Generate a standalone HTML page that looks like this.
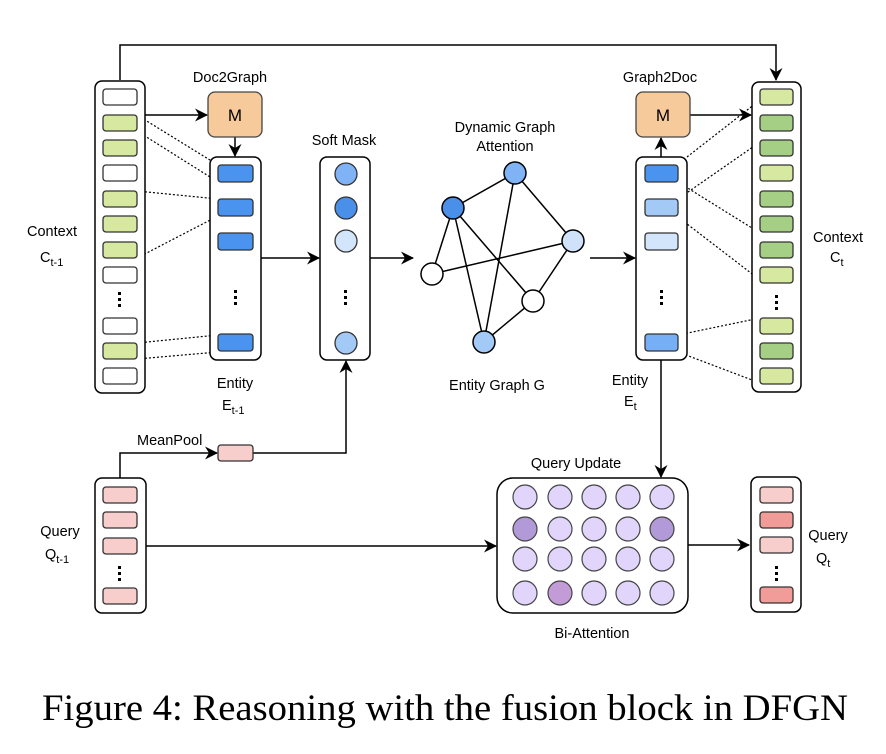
<!DOCTYPE html>
<html><head><meta charset="utf-8"><style>
html,body{margin:0;padding:0;background:#fff;}
svg{display:block;}
text{font-family:"Liberation Sans",sans-serif;font-size:14.5px;fill:#000;}
</style></head><body>
<svg width="886" height="754" viewBox="0 0 886 754" xmlns="http://www.w3.org/2000/svg">
<defs>
<marker id="ar" markerWidth="13" markerHeight="13" refX="12" refY="6.5" orient="auto" markerUnits="userSpaceOnUse">
<path d="M0,0 L13,6.5 L0,13 L4,6.5 Z" fill="#000"/></marker>
</defs>
<g stroke="#000" stroke-width="1.5" fill="none">
<path d="M120,80 V45 H776 V80" marker-end="url(#ar)"/>
<path d="M145,115 H207" marker-end="url(#ar)"/>
<path d="M235,137 V156" marker-end="url(#ar)"/>
<path d="M261,258 H319" marker-end="url(#ar)"/>
<path d="M370,258 H413" marker-end="url(#ar)"/>
<path d="M590,258 H635" marker-end="url(#ar)"/>
<path d="M661,157 V138" marker-end="url(#ar)"/>
<path d="M690,115 H751" marker-end="url(#ar)"/>
<path d="M661,360 V477" marker-end="url(#ar)"/>
<path d="M120,478 V453 H217" marker-end="url(#ar)"/>
<path d="M253,453 H346 V361" marker-end="url(#ar)"/>
<path d="M146,546 H496" marker-end="url(#ar)"/>
<path d="M688,545 H749" marker-end="url(#ar)"/>
</g>
<g stroke="#000" stroke-width="1.2" stroke-dasharray="2,2" fill="none">
<path d="M137,115 L218,165 M137,131 L218,182 M137,191 L218,199 M137,258 L218,216 M137,343 L218,335 M137,359 L218,352"/>
<path d="M687,157 L760,100 M678,199 L760,142 M678,182 L760,233 M678,217 L760,280 M678,335 L760,318 M678,352 L760,383"/>
</g>
<g stroke="#000" stroke-width="1.5" fill="#fff">
<rect x="95" y="81" width="50" height="312" rx="7"/>
<rect x="210" y="157" width="51" height="203" rx="7"/>
<rect x="320" y="157" width="50" height="203" rx="7"/>
<rect x="636" y="157" width="51" height="203" rx="7"/>
<rect x="752" y="82" width="49" height="310" rx="7"/>
<rect x="95" y="478" width="51" height="135" rx="7"/>
<rect x="751" y="477" width="50" height="135" rx="7"/>
<rect x="497" y="478" width="191" height="135" rx="16"/>
</g>
<g stroke="#444" stroke-width="1.3">
<rect x="208" y="92" width="54" height="45" rx="7" fill="#f7ca9c"/>
<rect x="636" y="92" width="54" height="45" rx="7" fill="#f7ca9c"/>
</g>
<text x="235" y="121" text-anchor="middle" style="font-size:17px">M</text>
<text x="663" y="121" text-anchor="middle" style="font-size:17px">M</text>
<g stroke="#333" stroke-width="1.3">
<rect x="103" y="89" width="34" height="16" rx="3" fill="#fff"/>
<rect x="103" y="115" width="34" height="16" rx="3" fill="#d7e9a0"/>
<rect x="103" y="140" width="34" height="16" rx="3" fill="#d7e9a0"/>
<rect x="103" y="165" width="34" height="16" rx="3" fill="#fff"/>
<rect x="103" y="191" width="34" height="16" rx="3" fill="#d7e9a0"/>
<rect x="103" y="216" width="34" height="16" rx="3" fill="#d7e9a0"/>
<rect x="103" y="242" width="34" height="16" rx="3" fill="#d7e9a0"/>
<rect x="103" y="267" width="34" height="16" rx="3" fill="#fff"/>
<rect x="103" y="318" width="34" height="16" rx="3" fill="#fff"/>
<rect x="103" y="343" width="34" height="16" rx="3" fill="#d7e9a0"/>
<rect x="103" y="368" width="34" height="16" rx="3" fill="#fff"/>
<rect x="760" y="89" width="33" height="16" rx="3" fill="#d7e9a0"/>
<rect x="760" y="115" width="33" height="16" rx="3" fill="#a6cf86"/>
<rect x="760" y="140" width="33" height="16" rx="3" fill="#a6cf86"/>
<rect x="760" y="165" width="33" height="16" rx="3" fill="#d7e9a0"/>
<rect x="760" y="191" width="33" height="16" rx="3" fill="#a6cf86"/>
<rect x="760" y="216" width="33" height="16" rx="3" fill="#a6cf86"/>
<rect x="760" y="242" width="33" height="16" rx="3" fill="#a6cf86"/>
<rect x="760" y="267" width="33" height="16" rx="3" fill="#d7e9a0"/>
<rect x="760" y="318" width="33" height="16" rx="3" fill="#d7e9a0"/>
<rect x="760" y="343" width="33" height="16" rx="3" fill="#a6cf86"/>
<rect x="760" y="368" width="33" height="16" rx="3" fill="#d7e9a0"/>
<rect x="218" y="165" width="35" height="17" rx="3" fill="#4a94f0"/>
<rect x="218" y="199" width="35" height="17" rx="3" fill="#4a94f0"/>
<rect x="218" y="233" width="35" height="17" rx="3" fill="#4a94f0"/>
<rect x="218" y="334" width="35" height="17" rx="3" fill="#4a94f0"/>
<rect x="645" y="165" width="33" height="17" rx="3" fill="#4a94f0"/>
<rect x="645" y="199" width="33" height="17" rx="3" fill="#a3c9f7"/>
<rect x="645" y="233" width="33" height="17" rx="3" fill="#d3e5fb"/>
<rect x="645" y="334" width="33" height="17" rx="3" fill="#76aff5"/>
<rect x="103" y="487" width="34" height="16" rx="3" fill="#f8cecc"/>
<rect x="103" y="512" width="34" height="16" rx="3" fill="#f8cecc"/>
<rect x="103" y="538" width="34" height="16" rx="3" fill="#f8cecc"/>
<rect x="103" y="588" width="34" height="16" rx="3" fill="#f8cecc"/>
<rect x="760" y="487" width="33" height="16" rx="3" fill="#f8cecc"/>
<rect x="760" y="512" width="33" height="16" rx="3" fill="#f19c99"/>
<rect x="760" y="537" width="33" height="16" rx="3" fill="#f8cecc"/>
<rect x="760" y="587" width="33" height="16" rx="3" fill="#f19c99"/>
<rect x="218" y="445" width="35" height="16" rx="3" fill="#f8cecc"/>
<circle cx="346" cy="174" r="11" fill="#7fb3f6"/>
<circle cx="346" cy="208" r="11" fill="#4a8fe8"/>
<circle cx="346" cy="241" r="11" fill="#d3e5fb"/>
<circle cx="346" cy="343" r="11" fill="#a3c9f7"/>
</g>
<g fill="#000">
<rect x="118" y="292" width="3" height="3"/><rect x="118" y="298" width="3" height="3"/><rect x="118" y="304" width="3" height="3"/>
<rect x="234" y="290" width="3" height="3"/><rect x="234" y="296" width="3" height="3"/><rect x="234" y="302" width="3" height="3"/>
<rect x="344" y="290" width="3" height="3"/><rect x="344" y="296" width="3" height="3"/><rect x="344" y="302" width="3" height="3"/>
<rect x="660" y="290" width="3" height="3"/><rect x="660" y="296" width="3" height="3"/><rect x="660" y="302" width="3" height="3"/>
<rect x="775" y="295" width="3" height="3"/><rect x="775" y="301" width="3" height="3"/><rect x="775" y="307" width="3" height="3"/>
<rect x="118" y="566" width="3" height="3"/><rect x="118" y="572" width="3" height="3"/><rect x="118" y="578" width="3" height="3"/>
<rect x="775" y="566" width="3" height="3"/><rect x="775" y="572" width="3" height="3"/><rect x="775" y="578" width="3" height="3"/>
</g>
<g stroke="#000" stroke-width="1.5">
<path d="M453,208 L515,173 M453,208 L432,274 M453,208 L484,342 M453,208 L533,301 M515,173 L484,342 M515,173 L573,241 M432,274 L573,241 M573,241 L533,301 M533,301 L484,342"/>
<circle cx="453" cy="208" r="11" fill="#4a8fe8"/>
<circle cx="515" cy="173" r="11" fill="#7fb3f6"/>
<circle cx="573" cy="241" r="11" fill="#cfe2fa"/>
<circle cx="432" cy="274" r="11" fill="#fff"/>
<circle cx="533" cy="301" r="11" fill="#fff"/>
<circle cx="484" cy="342" r="11" fill="#a3c9f7"/>
</g>
<g stroke="#444" stroke-width="1.2" fill="#e1d5fb">
<circle cx="525" cy="497" r="12"/><circle cx="560" cy="497" r="12"/><circle cx="594" cy="497" r="12"/><circle cx="628" cy="497" r="12"/><circle cx="662" cy="497" r="12"/>
<circle cx="525" cy="529" r="12" fill="#b29ad8"/><circle cx="560" cy="529" r="12"/><circle cx="594" cy="529" r="12"/><circle cx="628" cy="529" r="12"/><circle cx="662" cy="529" r="12" fill="#b29ad8"/>
<circle cx="525" cy="559" r="12"/><circle cx="560" cy="559" r="12"/><circle cx="594" cy="559" r="12"/><circle cx="628" cy="559" r="12"/><circle cx="662" cy="559" r="12"/>
<circle cx="525" cy="593" r="12"/><circle cx="560" cy="593" r="12" fill="#c39bd7"/><circle cx="594" cy="593" r="12"/><circle cx="628" cy="593" r="12"/><circle cx="662" cy="593" r="12"/>
</g>
<text x="230" y="82" text-anchor="middle">Doc2Graph</text>
<text x="660" y="82" text-anchor="middle">Graph2Doc</text>
<text x="344" y="145" text-anchor="middle">Soft Mask</text>
<text x="505" y="132" text-anchor="middle">Dynamic Graph</text>
<text x="505" y="151" text-anchor="middle">Attention</text>
<text x="497" y="390" text-anchor="middle">Entity Graph G</text>
<text x="52" y="236" text-anchor="middle">Context</text>
<text x="40" y="262">C<tspan dy="4" style="font-size:11px">t-1</tspan></text>
<text x="235" y="388" text-anchor="middle">Entity</text>
<text x="222" y="410">E<tspan dy="4" style="font-size:11px">t-1</tspan></text>
<text x="630" y="385" text-anchor="middle">Entity</text>
<text x="624" y="406">E<tspan dy="4" style="font-size:11px">t</tspan></text>
<text x="838" y="242" text-anchor="middle">Context</text>
<text x="830" y="262">C<tspan dy="4" style="font-size:11px">t</tspan></text>
<text x="60" y="536" text-anchor="middle">Query</text>
<text x="45" y="559">Q<tspan dy="4" style="font-size:11px">t-1</tspan></text>
<text x="828" y="540" text-anchor="middle">Query</text>
<text x="816" y="563">Q<tspan dy="4" style="font-size:11px">t</tspan></text>
<text x="137" y="445">MeanPool</text>
<text x="576" y="468" text-anchor="middle">Query Update</text>
<text x="592" y="638" text-anchor="middle">Bi-Attention</text>
<text x="445" y="720" text-anchor="middle" textLength="806" lengthAdjust="spacingAndGlyphs" style="font-family:'Liberation Serif',serif;font-size:37px">Figure 4: Reasoning with the fusion block in DFGN</text>
</svg>
</body></html>
